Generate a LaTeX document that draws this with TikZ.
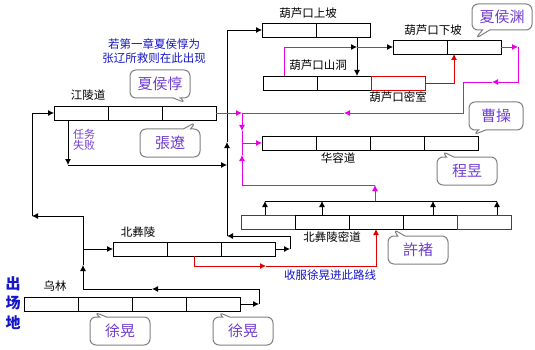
\documentclass[tikz,border=0pt]{standalone}
\usepackage{fontspec}
\setmainfont{Noto Sans CJK SC}
\usetikzlibrary{arrows.meta,positioning,shapes.callouts,calc}
\definecolor{mapblue}{HTML}{1414C8}
\definecolor{mappurple}{HTML}{7040D0}
\definecolor{mapmag}{HTML}{E800E8}
\definecolor{mapred}{HTML}{E00000}
\definecolor{mapgray}{HTML}{808080}

\begin{document}
\begin{tikzpicture}[x=1pt,y=-1pt,line width=0.8pt,
    cell/.style={draw=black,minimum width=54pt,minimum height=14pt,anchor=north west,inner sep=0pt,outer sep=0pt},
    redcell/.style={cell,draw=mapred},
    lbl/.style={font=\fontsize{11.5}{12}\selectfont,inner sep=0pt},
    note/.style={font=\fontsize{11.5}{14}\selectfont,text=mapblue,inner sep=0pt,align=center},
    bubble/.style={rectangle callout,draw=mapgray,line width=1pt,fill=white,rounded corners=6pt,minimum width=60pt,minimum height=28pt,inner sep=0pt,font=\fontsize{15}{15}\selectfont,text=mappurple},
    arr/.style={-{Latex[length=6pt,width=6pt]}},
    barr/.style={-{Latex[length=6pt,width=6pt,color=black]}},
    mag/.style={draw=mapmag},
    rline/.style={draw=mapred}]
    \useasboundingbox (0,0) rectangle (535,350);

    \foreach \i in {1,2,3}
      \node[cell] (jl\i) at ({54+(\i-1)*54},106) {};
    \foreach \i in {1,2}
      \node[cell] (sp\i) at ({262+(\i-1)*54},23) {};
    \foreach \i in {1,2}
      \node[cell] (xp\i) at ({393+(\i-1)*54},40) {};
    \foreach \i in {1,2}
      \node[cell] (sd\i) at ({263+(\i-1)*54},76) {};
    \node[redcell] (ms) at (371,76) {};
    \foreach \i in {1,...,4}
      \node[cell] (hr\i) at ({262+(\i-1)*54},136) {};
    \foreach \i/\s in {1/redcell,2/cell,3/cell,4/cell,5/redcell}
      \node[\s] (md\i) at ({241+(\i-1)*54},215) {};
    \foreach \i in {1,2,3}
      \node[cell] (by\i) at ({113+(\i-1)*54},242) {};
    \foreach \i in {1,...,4}
      \node[cell] (wl\i) at ({24+(\i-1)*54},297) {};

    \node[lbl] (jlname) at (88,95) {江陵道};
    \node[lbl] (spname) at (308,13) {葫芦口上坡};
    \node[lbl] (xpname) at (433,30) {葫芦口下坡};
    \node[lbl] (sdname) at (318,65) {葫芦口山洞};
    \node[lbl] (msname) at (398,97) {葫芦口密室};
    \node[lbl] (hrname) at (338,158) {华容道};
    \node[lbl] (byname) at (138,232) {北彝陵};
    \node[lbl] (mdname) at (332,237) {北彝陵密道};
    \node[lbl] (wlname) at (55,286) {乌林};
    \node[note] (jlnote) at (154,51) {若第一章夏侯惇为\\张辽所救则在此出现};
    \node[note] (xhnote) at (330,275) {收服徐晃进此路线};
    \node[font=\fontsize{11}{11}\selectfont,text=mappurple,align=left,inner sep=0pt] (fail) at (84,140) {任务\\失败};
    \node[font=\fontsize{15}{19.5}\selectfont\bfseries,text=mapblue,align=center,inner sep=0pt] (start) at (13,303) {出\\场\\地};

    \coordinate (wlr) at ($(wl4.east)+(19,0)$);
    \coordinate (wlm) at (152,289);
    \coordinate (wlj) at (83,289);
    \coordinate (wlv) at (83,265);
    \coordinate (wlu) at (83,216);
    \coordinate (lft) at (32,216);
    \draw[arr] (wl4.east) -- (wlr);
    \draw[arr] (wlr) |- (wlm);
    \draw (wlm) -- (wlj);
    \draw[arr] (wlj) -- (wlv);
    \draw (wlv) -- (wlu);
    \draw[arr] (wlu) -- (lft);
    \draw[arr] (lft) |- (jl1.west);
    \draw[arr] (wlj |- by1.west) -- (by1.west);

    \coordinate (fl) at (68,165);
    \coordinate (mainv) at (227,236);
    \coordinate (mvm) at (227,142);
    \draw[arr] (jl1.south west -| fl) -- (fl);
    \draw[arr] (fl) -- (fl -| mainv);
    \draw[arr] (mainv) -- (mvm);
    \draw[arr] (mvm) |- (sp1.west);
    \coordinate (byr) at ($(by3.east)+(15,0)$);
    \draw[arr] (by3.east) -- (byr);
    \draw[arr] (byr) |- (mainv);

    \coordinate (spd) at ($(sp2.south east)+(-13,0)$);
    \draw[arr] (spd) -- (spd |- sd2.north);
    \coordinate (sdu) at ($(sd1.north west)+(21,0)$);
    \draw[mag,barr] (sdu) |- (spd |- xp1.west);
    \draw[mag,barr] (spd |- xp1.west) -- (xp1.west);
    \draw[rline,arr] (ms.east) -| ($(xp2.south west)+(7,0)$);

    \coordinate (xr) at ($(xp2.east)+(17,0)$);
    \coordinate (xrm) at (492,82);
    \coordinate (xm) at (463,82);
    \coordinate (xmm) at (344,113);
    \coordinate (jn) at (242,113);
    \coordinate (jnm) at (242,131);
    \draw[mag,arr] (xp2.east) -- (xr);
    \draw[mag,arr] (xr) |- (xrm);
    \draw[mag] (xrm) -- (xm);
    \draw[mag,arr] (xm) |- (xmm);
    \draw[mag] (xmm) -- (jn);
    \draw[mag,arr] (jl3.east) -- (jn);
    \draw[mag,arr] (jn) -- (jnm);
    \draw[mag] (jnm) -- (jn |- hr1.west);
    \draw[mag,arr] (jn |- hr1.west) -- (hr1.west);

    \foreach \c/\d in {md1/-3,md2/0,md4/3,md5/13}
      \draw[arr] ($(\c.north)+(\d,0)$) -- ++(0,-14);
    \draw ($(md1.north)+(-3,-14)$) -- ($(md5.north)+(13,-14)$);
    \coordinate (mdm) at ($(md3.north)+(-1,-14)$);
    \coordinate (mdup) at ($(mdm)+(0,-16)$);
    \coordinate (mum) at (242,155);
    \draw[mag,arr] (mdm) -- (mdup);
    \draw[mag,arr] (mdup) -| (mum);
    \draw[mag] (mum) -- (jn |- hr1.west);

    \coordinate (rb) at ($(by2.south)+(0,10)$);
    \coordinate (rbm) at ($(rb)+(72,0)$);
    \draw[rline,arr] (by2.south) |- (rbm);
    \draw[rline,arr] (rbm) -| (md3.south);

    \node[bubble,callout absolute pointer={($(jl3.north)+(-3,-3)$)}] (xhd) at (160,84) {夏侯惇};
    \node[bubble,callout absolute pointer={($(jl3.south)+(7,2)$)}] (zl) at (170,143) {張遼};
    \node[bubble,minimum height=26pt,callout absolute pointer={($(xp2.north)+(1,-1)$)}] (xhy) at (502,17) {夏侯渊};
    \node[bubble,minimum width=54pt,callout absolute pointer={($(hr4.north east)+(-5,-1)$)}] (cc) at (496,116) {曹操};
    \node[bubble,callout absolute pointer={($(hr4.south)+(-9,1)$)}] (cy) at (467,171) {程昱};
    \node[bubble,callout absolute pointer={($(md4.south west)+(-10,0)$)}] (xc) at (418,250) {許褚};
    \node[bubble,callout absolute pointer={($(wl2.south west)+(16,1)$)}] (xh1) at (120,331) {徐晃};
    \node[bubble,callout absolute pointer={($(wl4.south west)+(32,1)$)}] (xh2) at (243,331) {徐晃};
  \end{tikzpicture}
\end{document}
